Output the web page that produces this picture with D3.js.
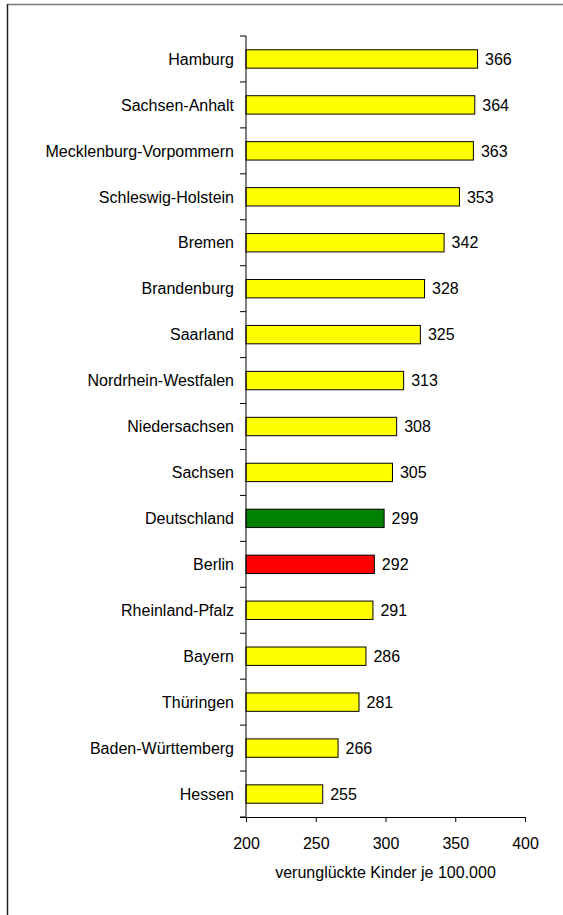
<!DOCTYPE html>
<html>
<head>
<meta charset="utf-8">
<script src="https://cdn.jsdelivr.net/npm/d3@7"></script>
<style>
  html, body { margin: 0; padding: 0; background: #fff; }
  svg { display: block; font-family: "Liberation Sans", Arial, sans-serif; }
</style>
</head>
<body>
<svg id="chart" width="563" height="915"></svg>
<script>
const categories = ["Hamburg", "Sachsen-Anhalt", "Mecklenburg-Vorpommern", "Schleswig-Holstein", "Bremen", "Brandenburg", "Saarland", "Nordrhein-Westfalen", "Niedersachsen", "Sachsen", "Deutschland", "Berlin", "Rheinland-Pfalz", "Bayern", "Thüringen", "Baden-Württemberg", "Hessen"];
const values = [366, 364, 363, 353, 342, 328, 325, 313, 308, 305, 299, 292, 291, 286, 281, 266, 255];
const xTicks = [200, 250, 300, 350, 400];
const xTitle = "verunglückte Kinder je 100.000";
const highlight = { "Deutschland": "#008000", "Berlin": "#ff0000" };

(function () {
const svg = d3.select("#chart");
const pLeft = 246, pRight = 525, pTop = 36, pBottom = 817;
const fs = 16;

// frame
svg.append("line").attr("x1", 7.5).attr("x2", 563).attr("y1", 4.5).attr("y2", 4.5)
  .attr("stroke", "#7a7a7a").attr("stroke-width", 1.5);
svg.append("line").attr("x1", 7.5).attr("x2", 7.5).attr("y1", 4).attr("y2", 915)
  .attr("stroke", "#222").attr("stroke-width", 1.5);

const x = d3.scaleLinear().domain([200, 400]).range([pLeft, pRight]);
const y = d3.scaleBand().domain(categories).range([pTop, pBottom]).paddingInner(0.6).paddingOuter(0.3);
const yStep = d3.scaleBand().domain(categories).range([pTop, pBottom]);

// bars
svg.append("g").selectAll("rect").data(categories).join("rect")
  .attr("x", x(200))
  .attr("y", d => y(d))
  .attr("width", (d, i) => x(values[i]) - x(200))
  .attr("height", y.bandwidth())
  .attr("fill", d => highlight[d] || "#ffff00")
  .attr("stroke", "#000").attr("stroke-width", 1);

// value labels
svg.append("g").selectAll("text").data(categories).join("text")
  .attr("x", (d, i) => x(values[i]) + 7.5)
  .attr("y", d => y(d) + y.bandwidth() / 2)
  .attr("dy", "0.36em")
  .attr("font-size", fs).attr("fill", "#000")
  .text((d, i) => values[i]);

// category labels
svg.append("g").selectAll("text").data(categories).join("text")
  .attr("x", pLeft - 12)
  .attr("y", d => y(d) + y.bandwidth() / 2)
  .attr("dy", "0.36em")
  .attr("text-anchor", "end")
  .attr("font-size", fs).attr("fill", "#000")
  .text(d => d);

// y axis line and ticks at band boundaries
const yb = categories.map(d => yStep(d)).concat([pBottom]);
svg.append("line").attr("x1", pLeft).attr("x2", pLeft).attr("y1", pTop).attr("y2", pBottom)
  .attr("stroke", "#000").attr("stroke-width", 1);
svg.append("g").selectAll("line").data(yb).join("line")
  .attr("x1", pLeft - 6).attr("x2", pLeft)
  .attr("y1", d => d).attr("y2", d => d)
  .attr("stroke", "#000").attr("stroke-width", 1);

// x axis
const xAxis = d3.axisBottom(x).tickValues(xTicks).tickSize(5).tickPadding(16).tickFormat(d3.format("d"));
const gx = svg.append("g").attr("transform", `translate(0,${pBottom})`).call(xAxis);
gx.select(".domain").attr("d", `M${pLeft - 6},0.5H${pRight}`).attr("stroke", "#000");
gx.selectAll(".tick line").attr("stroke", "#000");
gx.selectAll(".tick text").attr("font-size", fs).attr("font-family", "Liberation Sans, Arial, sans-serif").attr("fill", "#000");

// x title
svg.append("text")
  .attr("x", (pLeft + pRight) / 2)
  .attr("y", 872).attr("dy", "0.36em")
  .attr("text-anchor", "middle")
  .attr("font-size", fs).attr("fill", "#000")
  .text(xTitle);
})();
</script>
</body>
</html>
